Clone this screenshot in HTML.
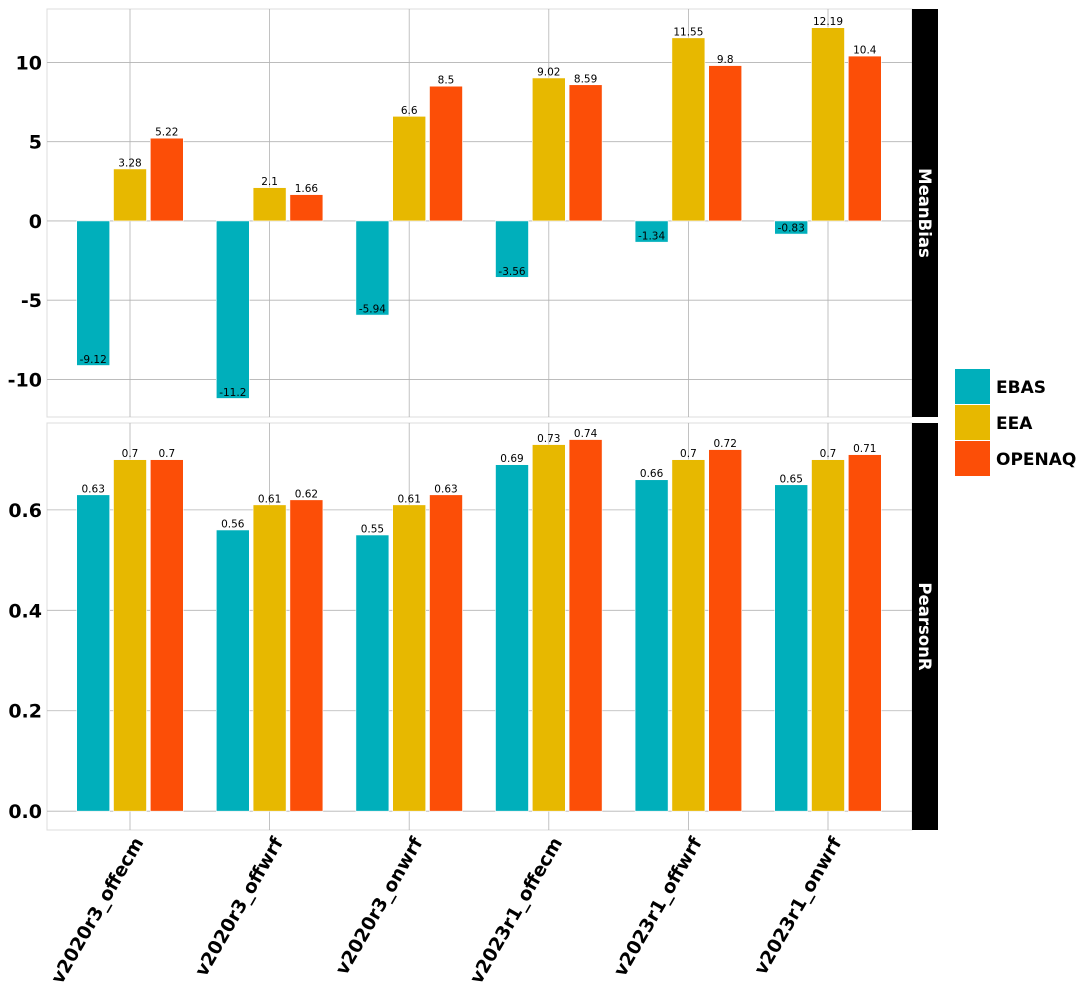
<!DOCTYPE html>
<html><head><meta charset="utf-8"><style>
body{margin:0;background:#fff;}
svg{display:block;font-family:"DejaVu Sans","Liberation Sans",sans-serif;}
</style></head><body>
<svg id="c" width="1089" height="990"></svg>
<script>
const categories=["v2020r3_offecm","v2020r3_offwrf","v2020r3_onwrf","v2023r1_offecm","v2023r1_offwrf","v2023r1_onwrf"];
const seriesNames=["EBAS","EEA","OPENAQ"];
const colors=["#00AFBB","#E7B800","#FC4E07"];
const meanBiasEBAS=[-9.12,-11.2,-5.94,-3.56,-1.34,-0.83];
const meanBiasEEA=[3.28,2.1,6.6,9.02,11.55,12.19];
const meanBiasOPENAQ=[5.22,1.66,8.5,8.59,9.8,10.4];
const pearsonEBAS=[0.63,0.56,0.55,0.69,0.66,0.65];
const pearsonEEA=[0.7,0.61,0.61,0.73,0.7,0.7];
const pearsonOPENAQ=[0.7,0.62,0.63,0.74,0.72,0.71];
const meanBiasTicks=[-10,-5,0,5,10];
const pearsonTicks=[0.0,0.2,0.4,0.6];

const svg=document.getElementById('c');
const NS='http://www.w3.org/2000/svg';
function mk(tag,attrs,parent){const e=document.createElementNS(NS,tag);for(const k in attrs)e.setAttribute(k,attrs[k]);(parent||svg).appendChild(e);return e;}
const X0=47,X1=912;
const xCenter=i=>130+i*139.6;
const barOff=[-36.8,0,36.8],barW=33;

const panels=[
 {name:'MeanBias',top:9,bot:417,min:-12.37,max:13.37,ticks:meanBiasTicks,fmt:v=>String(v),series:[meanBiasEBAS,meanBiasEEA,meanBiasOPENAQ]},
 {name:'PearsonR',top:423,bot:830,min:-0.0375,max:0.773,ticks:pearsonTicks,fmt:v=>v.toFixed(1),series:[pearsonEBAS,pearsonEEA,pearsonOPENAQ]}
];
panels.forEach((p,pi)=>{
 const g=mk('g',{});
 
 
 const y=v=>p.bot-(v-p.min)/(p.max-p.min)*(p.bot-p.top);
 mk('rect',{x:X0,y:p.top,width:X1-X0,height:p.bot-p.top,fill:'#fff',stroke:'#dcdcdc','stroke-width':1},g);
 p.ticks.forEach(t=>{
  const l=mk('line',{x1:X0,x2:X1,y1:y(t),y2:y(t),stroke:'#b3b3b3','stroke-width':0.8},g);
  
  
  const tx=mk('text',{x:42,y:y(t)+7,'text-anchor':'end','font-size':19,'font-weight':'bold',fill:'#000'},g);
  tx.textContent=p.fmt(t);
  
  
 });
 categories.forEach((c,i)=>{
  mk('line',{x1:xCenter(i),x2:xCenter(i),y1:p.top,y2:p.bot,stroke:'#b3b3b3','stroke-width':0.8},g);
 });
 p.series.forEach((s,si)=>{
  s.forEach((v,i)=>{
   const cx=xCenter(i)+barOff[si];
   const y0=y(0),yv=y(v);
   const r=mk('rect',{x:cx-barW/2,y:Math.min(y0,yv),width:barW,height:Math.abs(yv-y0),fill:colors[si],stroke:'#fff','stroke-width':0.6},g);
   
   
   const t=mk('text',{x:cx,y:yv-2.5,'text-anchor':'middle','font-size':10.5,fill:'#000'},g);
   t.textContent=String(v);
   
   
  });
 });
 const st=mk('rect',{x:912,y:p.top,width:26,height:p.bot-p.top,fill:'#000'},g);
 
 
 const sy=(p.top+p.bot)/2;
 const stt=mk('text',{x:919,y:sy,'text-anchor':'middle','font-size':16.5,'font-weight':'bold',fill:'#fff',transform:`rotate(90 919 ${sy})`},g);
 stt.textContent=p.name;
 
 
});
categories.forEach((c,i)=>{
 const x=xCenter(i)+14,yy=842;
 const t=mk('text',{x:x,y:yy,'text-anchor':'end','font-size':18.5,'font-weight':'bold',fill:'#000',transform:`rotate(-60 ${x} ${yy})`});
 t.textContent=c;
 
 
});
seriesNames.forEach((n,si)=>{
 const yy=369+si*36;
 const r=mk('rect',{x:955,y:yy,width:35,height:35,fill:colors[si]});
 
 
 const t=mk('text',{x:996,y:yy+24,'font-size':17,'font-weight':'bold',fill:'#000'});
 t.textContent=n;
 
 
});
</script>
</body></html>
